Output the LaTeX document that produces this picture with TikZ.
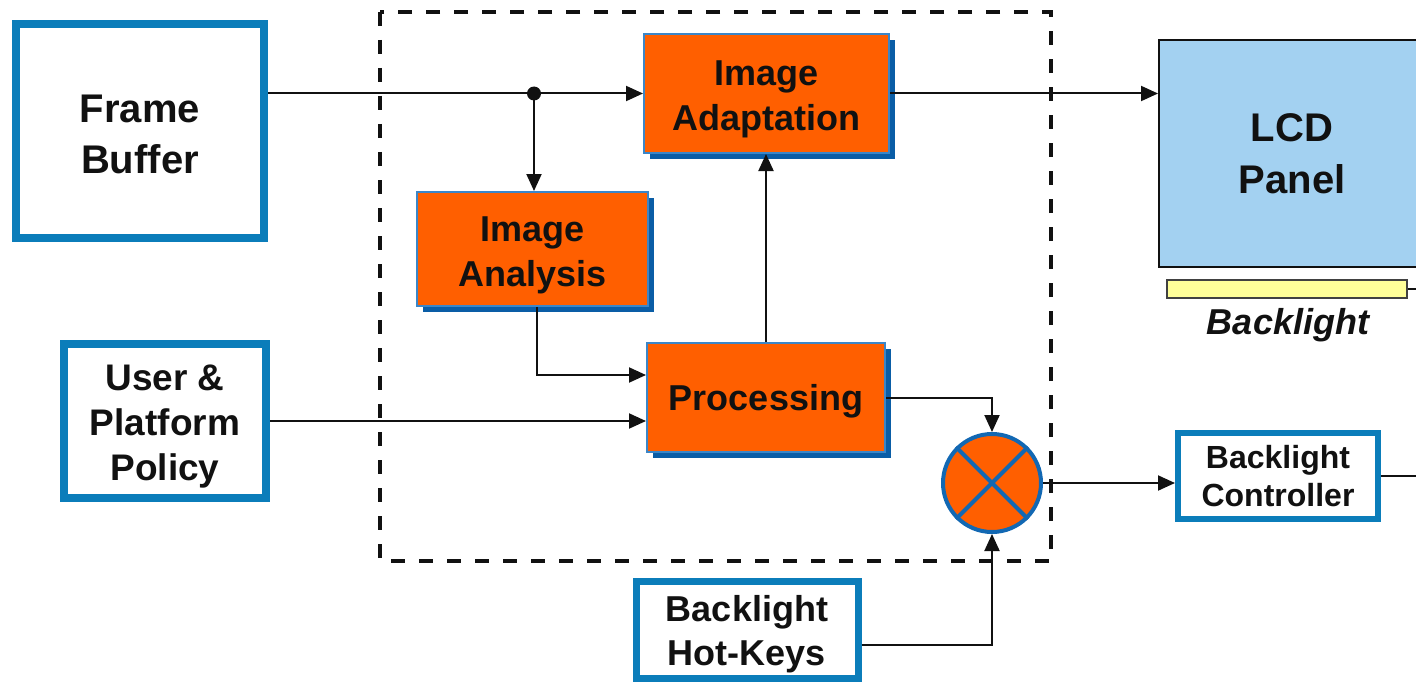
\documentclass[tikz,border=0pt]{standalone}
\usepackage{fontspec}
\setmainfont{Liberation Sans}
\usetikzlibrary{shadows,arrows.meta,calc}
\definecolor{boxblue}{HTML}{0B7DBA}
\definecolor{orangefill}{HTML}{FF5F00}
\definecolor{shadowblue}{HTML}{0A5DA6}
\definecolor{edgeblue}{HTML}{3B86C8}
\definecolor{circblue}{HTML}{1268B3}
\definecolor{lcdblue}{HTML}{A3D1F1}
\definecolor{baryellow}{HTML}{FFFF99}
\definecolor{ink}{HTML}{111111}
% invisible strut that lifts the first line's height (moves the text block down)
\newcommand\topstrut[1]{\rule{0pt}{#1}}

\begin{document}
\begin{tikzpicture}[x=1pt,y=-1pt,
  inbox/.style={draw=boxblue, line width=8pt, fill=white, align=center,
    text=ink, font=\bfseries\fontsize{40}{51}\selectfont, inner sep=0pt},
  procbox/.style={draw=edgeblue, line width=2pt, fill=orangefill, align=center,
    text=ink, font=\bfseries\fontsize{36}{45}\selectfont, inner sep=0pt,
    drop shadow={shadow xshift=6pt, shadow yshift=-6pt, fill=shadowblue, opacity=1}},
  conn/.style={draw=ink, line width=2pt},
  arr/.style={conn, -{Triangle[length=17pt,width=15pt]}},
  ]
\useasboundingbox (0,0) rectangle (1416,682);

% processing group boundary
\draw[ink, line width=4pt, dash pattern=on 14pt off 14pt] (380,12) rectangle (1051,561);

% sources
\node[inbox, minimum width=248pt, minimum height=214pt] (fb) at (140,131)
  {\topstrut{34pt}Frame\\Buffer};
\node[inbox, minimum width=202pt, minimum height=154pt,
  font=\bfseries\fontsize{37}{45}\selectfont] (upp) at (165,421)
  {\topstrut{37pt}User \&\\Platform\\Policy};
\node[inbox, line width=7pt, minimum width=222pt, minimum height=97pt,
  font=\bfseries\fontsize{36}{44}\selectfont] (hk) at (747,630) {\topstrut{35pt}Backlight\\Hot-Keys};

% processing blocks
\node[procbox, minimum width=245pt, minimum height=119pt] (adapt) at (766.5,93.5)
  {\topstrut{36pt}Image\\Adaptation};
\node[procbox, minimum width=231pt, minimum height=114pt] (ana) at (532.5,249)
  {\topstrut{38pt}Image\\Analysis};
\node[procbox, minimum width=238pt, minimum height=109pt] (proc) at (766,397.5)
  {\topstrut{34pt}Processing};

% multiplier
\node[circle, draw=circblue, line width=4pt, fill=orangefill, minimum size=98pt,
  inner sep=0pt] (mix) at (992,483) {};
\draw[circblue, line width=4pt] (mix.north west) -- (mix.south east)
  (mix.north east) -- (mix.south west);

% display side
\node[draw=ink, line width=2pt, fill=lcdblue, minimum width=266pt, minimum height=227pt,
  align=center, text=ink, font=\bfseries\fontsize{40}{52}\selectfont] (lcd) at (1292,153.5) {LCD\\Panel};
\node[draw=ink!80, line width=1.5pt, fill=baryellow, minimum width=240pt,
  minimum height=18pt, inner sep=0pt] (bar) at (1287,289) {};
\node[anchor=base, text=ink, font=\bfseries\itshape\fontsize{36}{40}\selectfont] (bllabel) at (1288,334) {Backlight};
\node[inbox, line width=6pt, minimum width=200pt, minimum height=86pt,
  font=\bfseries\fontsize{32}{38}\selectfont] (bc) at (1278,476) {Backlight\\Controller};

% connectors
\coordinate (split) at (534,93.5);
\coordinate (feedrow) at (0,375);
\coordinate (hkrow) at (0,645);
\coordinate (ctrlout) at (1420,476);
\coordinate (barout) at (1420,289);

\draw[arr] (fb.east |- adapt.west) -- (adapt.west);
\fill[ink] (split) circle (7pt);
\draw[arr] (split) -- (split |- ana.north);
\draw[arr] ([xshift=4pt]ana.south) |- (proc.west |- feedrow);
\draw[arr] (upp.east) -- (upp.east -| proc.west);
\draw[arr] (proc.north) -- (proc.north |- adapt.south);
\draw[arr] (proc.east) -| (mix.north);
\draw[arr] (hk.east |- hkrow) -| (mix.south);
\draw[arr] (mix.east) -- (mix.east -| bc.west);
\draw[conn] (bc.east) -- (ctrlout);
\draw[arr] (adapt.east) -- (adapt.east -| lcd.west);
\draw[conn] (bar.east) -- (barout);
\end{tikzpicture}
\end{document}
